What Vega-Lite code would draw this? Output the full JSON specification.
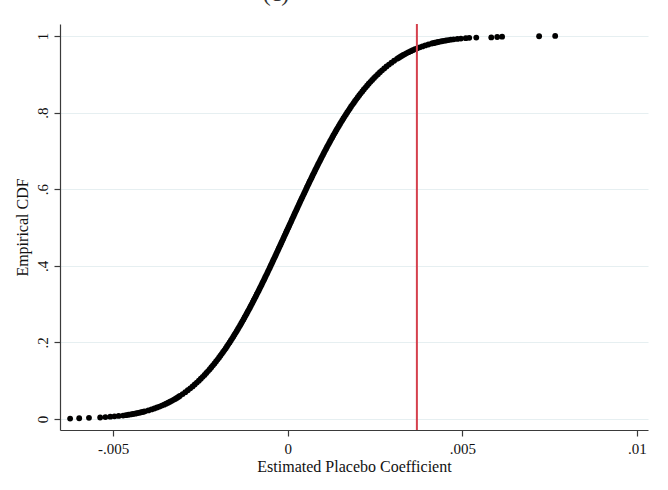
{
  "$schema": "https://vega.github.io/schema/vega-lite/v6.json",
  "width": 588,
  "height": 406,
  "autosize": "none",
  "padding": {"left": 60, "top": 24, "right": 20, "bottom": 60},
  "background": "white",
  "title": {"text": "(c)", "fontSize": 24, "font": "Liberation Serif", "fontWeight": "normal", "color": "#333", "anchor": "middle", "frame": "group", "dx": -78, "dy": 2, "offset": 0, "baseline": "alphabetic"},
  "config": {
    "view": {"stroke": null},
    "axis": {
      "labelFont": "Liberation Serif", "titleFont": "Liberation Serif",
      "labelFontSize": 15, "titleFontSize": 16, "titleFontWeight": "normal",
      "labelColor": "#111", "titleColor": "#111",
      "domainColor": "#3a3a3a", "domainWidth": 1.2,
      "tickColor": "#3a3a3a", "tickWidth": 1.2, "tickSize": 6
    }
  },
  "datasets": {
    "placebo": [
      {"coef": -0.00623, "ecdf": 0.001}, {"coef": -0.00597, "ecdf": 0.002}, {"coef": -0.00569, "ecdf": 0.003}, {"coef": -0.00537, "ecdf": 0.004},
      {"coef": -0.00522, "ecdf": 0.005}, {"coef": -0.00508, "ecdf": 0.006}, {"coef": -0.00496, "ecdf": 0.007}, {"coef": -0.00484, "ecdf": 0.008},
      {"coef": -0.004712, "ecdf": 0.009}, {"coef": -0.004632, "ecdf": 0.010}, {"coef": -0.00456, "ecdf": 0.011}, {"coef": -0.004494, "ecdf": 0.012},
      {"coef": -0.004432, "ecdf": 0.013}, {"coef": -0.004374, "ecdf": 0.014}, {"coef": -0.00432, "ecdf": 0.015}, {"coef": -0.004268, "ecdf": 0.016},
      {"coef": -0.00422, "ecdf": 0.017}, {"coef": -0.004174, "ecdf": 0.018}, {"coef": -0.00413, "ecdf": 0.019}, {"coef": -0.004088, "ecdf": 0.020},
      {"coef": -0.00399, "ecdf": 0.0225}, {"coef": -0.0039, "ecdf": 0.025}, {"coef": -0.003818, "ecdf": 0.0275}, {"coef": -0.003742, "ecdf": 0.030},
      {"coef": -0.00367, "ecdf": 0.0325}, {"coef": -0.003604, "ecdf": 0.035}, {"coef": -0.00354, "ecdf": 0.0375}, {"coef": -0.003482, "ecdf": 0.040},
      {"coef": -0.003424, "ecdf": 0.0425}, {"coef": -0.00337, "ecdf": 0.045}, {"coef": -0.00332, "ecdf": 0.0475}, {"coef": -0.00327, "ecdf": 0.050},
      {"coef": -0.003222, "ecdf": 0.0525}, {"coef": -0.003176, "ecdf": 0.055}, {"coef": -0.003132, "ecdf": 0.0575}, {"coef": -0.00309, "ecdf": 0.060},
      {"coef": -0.003008, "ecdf": 0.065}, {"coef": -0.002932, "ecdf": 0.070}, {"coef": -0.00286, "ecdf": 0.075}, {"coef": -0.00279, "ecdf": 0.080},
      {"coef": -0.002724, "ecdf": 0.085}, {"coef": -0.002662, "ecdf": 0.090}, {"coef": -0.002602, "ecdf": 0.095}, {"coef": -0.002544, "ecdf": 0.100},
      {"coef": -0.002488, "ecdf": 0.105}, {"coef": -0.002434, "ecdf": 0.110}, {"coef": -0.00238, "ecdf": 0.115}, {"coef": -0.00233, "ecdf": 0.120},
      {"coef": -0.00228, "ecdf": 0.125}, {"coef": -0.002232, "ecdf": 0.130}, {"coef": -0.002186, "ecdf": 0.135}, {"coef": -0.00214, "ecdf": 0.140},
      {"coef": -0.002096, "ecdf": 0.145}, {"coef": -0.002052, "ecdf": 0.150}, {"coef": -0.00201, "ecdf": 0.155}, {"coef": -0.001968, "ecdf": 0.160},
      {"coef": -0.001928, "ecdf": 0.165}, {"coef": -0.001888, "ecdf": 0.170}, {"coef": -0.00185, "ecdf": 0.175}, {"coef": -0.00181, "ecdf": 0.180},
      {"coef": -0.001772, "ecdf": 0.185}, {"coef": -0.001736, "ecdf": 0.190}, {"coef": -0.0017, "ecdf": 0.195}, {"coef": -0.001664, "ecdf": 0.200},
      {"coef": -0.001628, "ecdf": 0.205}, {"coef": -0.001592, "ecdf": 0.210}, {"coef": -0.001558, "ecdf": 0.215}, {"coef": -0.001524, "ecdf": 0.220},
      {"coef": -0.00149, "ecdf": 0.225}, {"coef": -0.001458, "ecdf": 0.230}, {"coef": -0.001424, "ecdf": 0.235}, {"coef": -0.001392, "ecdf": 0.240},
      {"coef": -0.00136, "ecdf": 0.245}, {"coef": -0.001328, "ecdf": 0.250}, {"coef": -0.001298, "ecdf": 0.255}, {"coef": -0.001266, "ecdf": 0.260},
      {"coef": -0.001236, "ecdf": 0.265}, {"coef": -0.001206, "ecdf": 0.270}, {"coef": -0.001176, "ecdf": 0.275}, {"coef": -0.001146, "ecdf": 0.280},
      {"coef": -0.001116, "ecdf": 0.285}, {"coef": -0.001086, "ecdf": 0.290}, {"coef": -0.001058, "ecdf": 0.295}, {"coef": -0.001028, "ecdf": 0.300},
      {"coef": -0.001, "ecdf": 0.305}, {"coef": -0.000972, "ecdf": 0.310}, {"coef": -0.000944, "ecdf": 0.315}, {"coef": -0.000916, "ecdf": 0.320},
      {"coef": -0.000888, "ecdf": 0.325}, {"coef": -0.00086, "ecdf": 0.330}, {"coef": -0.000832, "ecdf": 0.335}, {"coef": -0.000804, "ecdf": 0.340},
      {"coef": -0.000778, "ecdf": 0.345}, {"coef": -0.00075, "ecdf": 0.350}, {"coef": -0.000724, "ecdf": 0.355}, {"coef": -0.000696, "ecdf": 0.360},
      {"coef": -0.00067, "ecdf": 0.365}, {"coef": -0.000644, "ecdf": 0.370}, {"coef": -0.000618, "ecdf": 0.375}, {"coef": -0.00059, "ecdf": 0.380},
      {"coef": -0.000564, "ecdf": 0.385}, {"coef": -0.000538, "ecdf": 0.390}, {"coef": -0.000512, "ecdf": 0.395}, {"coef": -0.000486, "ecdf": 0.400},
      {"coef": -0.00046, "ecdf": 0.405}, {"coef": -0.000436, "ecdf": 0.410}, {"coef": -0.00041, "ecdf": 0.415}, {"coef": -0.000384, "ecdf": 0.420},
      {"coef": -0.000358, "ecdf": 0.425}, {"coef": -0.000332, "ecdf": 0.430}, {"coef": -0.000308, "ecdf": 0.435}, {"coef": -0.000282, "ecdf": 0.440},
      {"coef": -0.000256, "ecdf": 0.445}, {"coef": -0.000232, "ecdf": 0.450}, {"coef": -0.000206, "ecdf": 0.455}, {"coef": -0.00018, "ecdf": 0.460},
      {"coef": -0.000156, "ecdf": 0.465}, {"coef": -0.00013, "ecdf": 0.470}, {"coef": -0.000106, "ecdf": 0.475}, {"coef": -0.00008, "ecdf": 0.480},
      {"coef": -0.000056, "ecdf": 0.485}, {"coef": -0.00003, "ecdf": 0.490}, {"coef": -0.000006, "ecdf": 0.495}, {"coef": 0.00002, "ecdf": 0.500},
      {"coef": 0.000046, "ecdf": 0.505}, {"coef": 0.00007, "ecdf": 0.510}, {"coef": 0.000096, "ecdf": 0.515}, {"coef": 0.00012, "ecdf": 0.520},
      {"coef": 0.000146, "ecdf": 0.525}, {"coef": 0.00017, "ecdf": 0.530}, {"coef": 0.000196, "ecdf": 0.535}, {"coef": 0.00022, "ecdf": 0.540},
      {"coef": 0.000246, "ecdf": 0.545}, {"coef": 0.000272, "ecdf": 0.550}, {"coef": 0.000296, "ecdf": 0.555}, {"coef": 0.000322, "ecdf": 0.560},
      {"coef": 0.000348, "ecdf": 0.565}, {"coef": 0.000372, "ecdf": 0.570}, {"coef": 0.000398, "ecdf": 0.575}, {"coef": 0.000424, "ecdf": 0.580},
      {"coef": 0.00045, "ecdf": 0.585}, {"coef": 0.000476, "ecdf": 0.590}, {"coef": 0.000502, "ecdf": 0.595}, {"coef": 0.000526, "ecdf": 0.600},
      {"coef": 0.000552, "ecdf": 0.605}, {"coef": 0.000578, "ecdf": 0.610}, {"coef": 0.000604, "ecdf": 0.615}, {"coef": 0.00063, "ecdf": 0.620},
      {"coef": 0.000658, "ecdf": 0.625}, {"coef": 0.000684, "ecdf": 0.630}, {"coef": 0.00071, "ecdf": 0.635}, {"coef": 0.000736, "ecdf": 0.640},
      {"coef": 0.000764, "ecdf": 0.645}, {"coef": 0.00079, "ecdf": 0.650}, {"coef": 0.000818, "ecdf": 0.655}, {"coef": 0.000844, "ecdf": 0.660},
      {"coef": 0.000872, "ecdf": 0.665}, {"coef": 0.0009, "ecdf": 0.670}, {"coef": 0.000928, "ecdf": 0.675}, {"coef": 0.000956, "ecdf": 0.680},
      {"coef": 0.000984, "ecdf": 0.685}, {"coef": 0.001012, "ecdf": 0.690}, {"coef": 0.00104, "ecdf": 0.695}, {"coef": 0.001068, "ecdf": 0.700},
      {"coef": 0.001098, "ecdf": 0.705}, {"coef": 0.001126, "ecdf": 0.710}, {"coef": 0.001156, "ecdf": 0.715}, {"coef": 0.001186, "ecdf": 0.720},
      {"coef": 0.001216, "ecdf": 0.725}, {"coef": 0.001246, "ecdf": 0.730}, {"coef": 0.001276, "ecdf": 0.735}, {"coef": 0.001306, "ecdf": 0.740},
      {"coef": 0.001338, "ecdf": 0.745}, {"coef": 0.001368, "ecdf": 0.750}, {"coef": 0.0014, "ecdf": 0.755}, {"coef": 0.001432, "ecdf": 0.760},
      {"coef": 0.001464, "ecdf": 0.765}, {"coef": 0.001498, "ecdf": 0.770}, {"coef": 0.00153, "ecdf": 0.775}, {"coef": 0.001564, "ecdf": 0.780},
      {"coef": 0.001598, "ecdf": 0.785}, {"coef": 0.001632, "ecdf": 0.790}, {"coef": 0.001668, "ecdf": 0.795}, {"coef": 0.001704, "ecdf": 0.800},
      {"coef": 0.00174, "ecdf": 0.805}, {"coef": 0.001776, "ecdf": 0.810}, {"coef": 0.001812, "ecdf": 0.815}, {"coef": 0.00185, "ecdf": 0.820},
      {"coef": 0.00189, "ecdf": 0.825}, {"coef": 0.001928, "ecdf": 0.830}, {"coef": 0.001968, "ecdf": 0.835}, {"coef": 0.002008, "ecdf": 0.840},
      {"coef": 0.00205, "ecdf": 0.845}, {"coef": 0.002092, "ecdf": 0.850}, {"coef": 0.002136, "ecdf": 0.855}, {"coef": 0.00218, "ecdf": 0.860},
      {"coef": 0.002226, "ecdf": 0.865}, {"coef": 0.002272, "ecdf": 0.870}, {"coef": 0.00232, "ecdf": 0.875}, {"coef": 0.00237, "ecdf": 0.880},
      {"coef": 0.00242, "ecdf": 0.885}, {"coef": 0.002474, "ecdf": 0.890}, {"coef": 0.002528, "ecdf": 0.895}, {"coef": 0.002584, "ecdf": 0.900},
      {"coef": 0.002642, "ecdf": 0.905}, {"coef": 0.002702, "ecdf": 0.910}, {"coef": 0.002764, "ecdf": 0.915}, {"coef": 0.00283, "ecdf": 0.920},
      {"coef": 0.0029, "ecdf": 0.925}, {"coef": 0.002972, "ecdf": 0.930}, {"coef": 0.003048, "ecdf": 0.935}, {"coef": 0.00313, "ecdf": 0.940},
      {"coef": 0.003172, "ecdf": 0.9425}, {"coef": 0.003216, "ecdf": 0.945}, {"coef": 0.003262, "ecdf": 0.9475}, {"coef": 0.00331, "ecdf": 0.950},
      {"coef": 0.00336, "ecdf": 0.9525}, {"coef": 0.00341, "ecdf": 0.955}, {"coef": 0.003464, "ecdf": 0.9575}, {"coef": 0.003522, "ecdf": 0.960},
      {"coef": 0.00358, "ecdf": 0.9625}, {"coef": 0.003644, "ecdf": 0.965}, {"coef": 0.00371, "ecdf": 0.9675}, {"coef": 0.003782, "ecdf": 0.970},
      {"coef": 0.003858, "ecdf": 0.9725}, {"coef": 0.00394, "ecdf": 0.975}, {"coef": 0.00403, "ecdf": 0.9775}, {"coef": 0.004128, "ecdf": 0.980},
      {"coef": 0.00417, "ecdf": 0.981}, {"coef": 0.004214, "ecdf": 0.982}, {"coef": 0.00426, "ecdf": 0.983}, {"coef": 0.004308, "ecdf": 0.984},
      {"coef": 0.00436, "ecdf": 0.985}, {"coef": 0.004414, "ecdf": 0.986}, {"coef": 0.004472, "ecdf": 0.987}, {"coef": 0.004534, "ecdf": 0.988},
      {"coef": 0.0046, "ecdf": 0.989}, {"coef": 0.004672, "ecdf": 0.990}, {"coef": 0.004752, "ecdf": 0.991}, {"coef": 0.00486, "ecdf": 0.992},
      {"coef": 0.00496, "ecdf": 0.993}, {"coef": 0.0051, "ecdf": 0.994}, {"coef": 0.0052, "ecdf": 0.995}, {"coef": 0.0054, "ecdf": 0.9955},
      {"coef": 0.00583, "ecdf": 0.996}, {"coef": 0.006, "ecdf": 0.997}, {"coef": 0.00614, "ecdf": 0.998}, {"coef": 0.0072, "ecdf": 0.999},
      {"coef": 0.00766, "ecdf": 1.0}
    ],
    "cutoff": [{"coef": 0.0037}]
  },
  "layer": [
    {
      "data": {"name": "placebo"},
      "mark": {"type": "point", "filled": true, "shape": "circle", "size": 34, "opacity": 1, "color": "#000000", "strokeWidth": 0},
      "encoding": {
        "x": {"field": "coef", "type": "quantitative",
          "scale": {"domain": [-0.00652, 0.010318], "nice": false, "zero": false},
          "axis": {"title": "Estimated Placebo Coefficient", "values": [-0.005, 0, 0.005, 0.01], "grid": false,
            "labelPadding": 5, "titlePadding": 2,
            "labelExpr": "datum.value == 0 ? '0' : (datum.value < 0 ? '-' : '') + replace(format(abs(datum.value), '~g'), '0.', '.')"}},
        "y": {"field": "ecdf", "type": "quantitative",
          "scale": {"domain": [-0.0287, 1.031], "nice": false, "zero": false},
          "axis": {"title": "Empirical CDF", "values": [0, 0.2, 0.4, 0.6, 0.8, 1], "grid": true, "gridColor": "#e6eff1", "gridWidth": 1.2,
            "labelAngle": -90, "labelAlign": "center", "labelBaseline": "bottom", "labelPadding": 4, "titlePadding": 5,
            "labelExpr": "datum.value == 0 ? '0' : (datum.value == 1 ? '1' : replace(format(datum.value, '~g'), '0.', '.'))"}}
      }
    },
    {
      "data": {"name": "cutoff"},
      "mark": {"type": "rule", "color": "#d5404d", "strokeWidth": 2},
      "encoding": {"x": {"field": "coef", "type": "quantitative"}}
    }
  ]
}
